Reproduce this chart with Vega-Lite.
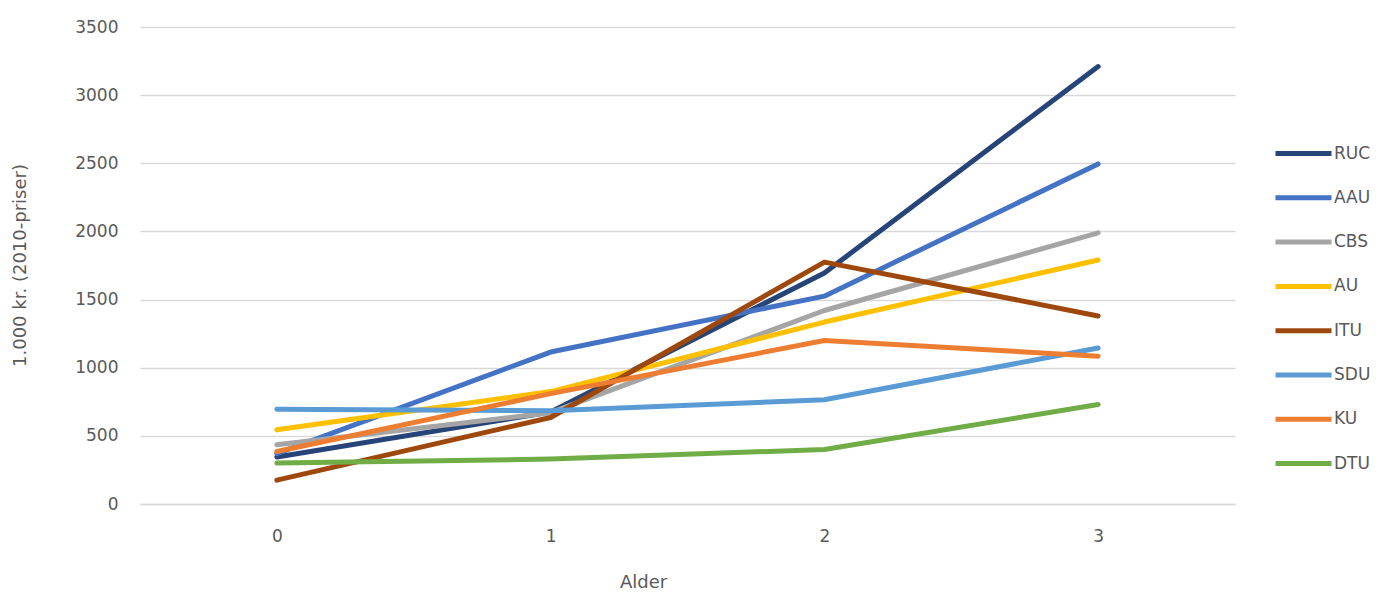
{
  "$schema": "https://vega.github.io/schema/vega-lite/v6.json",
  "width": 1095,
  "height": 477,
  "autosize": {"type": "none"},
  "padding": {"left": 140, "top": 27, "right": 144, "bottom": 88},
  "background": "white",
  "config": {
    "view": {"stroke": null},
    "font": "DejaVu Sans"
  },
  "data": {
    "values": [
      {"Alder": 0, "Uni": "RUC", "v": 345}, {"Alder": 1, "Uni": "RUC", "v": 675}, {"Alder": 2, "Uni": "RUC", "v": 1695}, {"Alder": 3, "Uni": "RUC", "v": 3210},
      {"Alder": 0, "Uni": "AAU", "v": 370}, {"Alder": 1, "Uni": "AAU", "v": 1115}, {"Alder": 2, "Uni": "AAU", "v": 1525}, {"Alder": 3, "Uni": "AAU", "v": 2495},
      {"Alder": 0, "Uni": "CBS", "v": 435}, {"Alder": 1, "Uni": "CBS", "v": 670}, {"Alder": 2, "Uni": "CBS", "v": 1420}, {"Alder": 3, "Uni": "CBS", "v": 1990},
      {"Alder": 0, "Uni": "AU", "v": 545}, {"Alder": 1, "Uni": "AU", "v": 825}, {"Alder": 2, "Uni": "AU", "v": 1335}, {"Alder": 3, "Uni": "AU", "v": 1790},
      {"Alder": 0, "Uni": "ITU", "v": 175}, {"Alder": 1, "Uni": "ITU", "v": 635}, {"Alder": 2, "Uni": "ITU", "v": 1775}, {"Alder": 3, "Uni": "ITU", "v": 1380},
      {"Alder": 0, "Uni": "SDU", "v": 695}, {"Alder": 1, "Uni": "SDU", "v": 685}, {"Alder": 2, "Uni": "SDU", "v": 765}, {"Alder": 3, "Uni": "SDU", "v": 1145},
      {"Alder": 0, "Uni": "KU", "v": 385}, {"Alder": 1, "Uni": "KU", "v": 810}, {"Alder": 2, "Uni": "KU", "v": 1200}, {"Alder": 3, "Uni": "KU", "v": 1085},
      {"Alder": 0, "Uni": "DTU", "v": 300}, {"Alder": 1, "Uni": "DTU", "v": 330}, {"Alder": 2, "Uni": "DTU", "v": 400}, {"Alder": 3, "Uni": "DTU", "v": 730}
    ]
  },
  "mark": {"type": "line", "strokeWidth": 5, "strokeCap": "round", "strokeJoin": "round"},
  "encoding": {
    "x": {
      "field": "Alder",
      "type": "ordinal",
      "scale": {"type": "point", "padding": 0.5},
      "axis": {
        "title": "Alder",
        "labelAngle": 0,
        "grid": false,
        "ticks": false,
        "domainColor": "#D9D9D9",
        "domainWidth": 1.5,
        "labelPadding": 24,
        "labelFont": "DejaVu Sans",
        "labelFontSize": 17,
        "labelColor": "#595959",
        "titleFont": "DejaVu Sans",
        "titleFontSize": 18,
        "titleFontWeight": "normal",
        "titleColor": "#595959",
        "titleX": 503,
        "titleY": 78,
        "titleBaseline": "middle"
      }
    },
    "y": {
      "field": "v",
      "type": "quantitative",
      "scale": {"domain": [0, 3500], "nice": false},
      "axis": {
        "title": "1.000 kr. (2010-priser)",
        "values": [0, 500, 1000, 1500, 2000, 2500, 3000, 3500],
        "format": "d",
        "grid": true,
        "gridColor": "#D9D9D9",
        "gridWidth": 1.5,
        "domain": false,
        "ticks": false,
        "labelPadding": 22,
        "labelFont": "DejaVu Sans",
        "labelFontSize": 17,
        "labelColor": "#595959",
        "titleFont": "DejaVu Sans",
        "titleFontSize": 18,
        "titleFontWeight": "normal",
        "titleColor": "#595959",
        "titleAngle": -90,
        "titleX": -120,
        "titleY": 238,
        "titleBaseline": "middle",
        "titleAlign": "center"
      }
    },
    "color": {
      "field": "Uni",
      "type": "nominal",
      "scale": {
        "domain": ["RUC", "AAU", "CBS", "AU", "ITU", "SDU", "KU", "DTU"],
        "range": ["#264478", "#4472C4", "#A5A5A5", "#FFC000", "#9E480E", "#5B9BD5", "#ED7D31", "#70AD47"]
      },
      "legend": {
        "title": null,
        "orient": "none",
        "legendX": 1141,
        "legendY": 104,
        "symbolType": "M-1.4,0H1.4",
        "symbolSize": 1600,
        "symbolStrokeWidth": 5,
        "rowPadding": 11.3,
        "labelOffset": 8,
        "labelFont": "DejaVu Sans",
        "labelFontSize": 17,
        "labelColor": "#595959"
      }
    }
  }
}
